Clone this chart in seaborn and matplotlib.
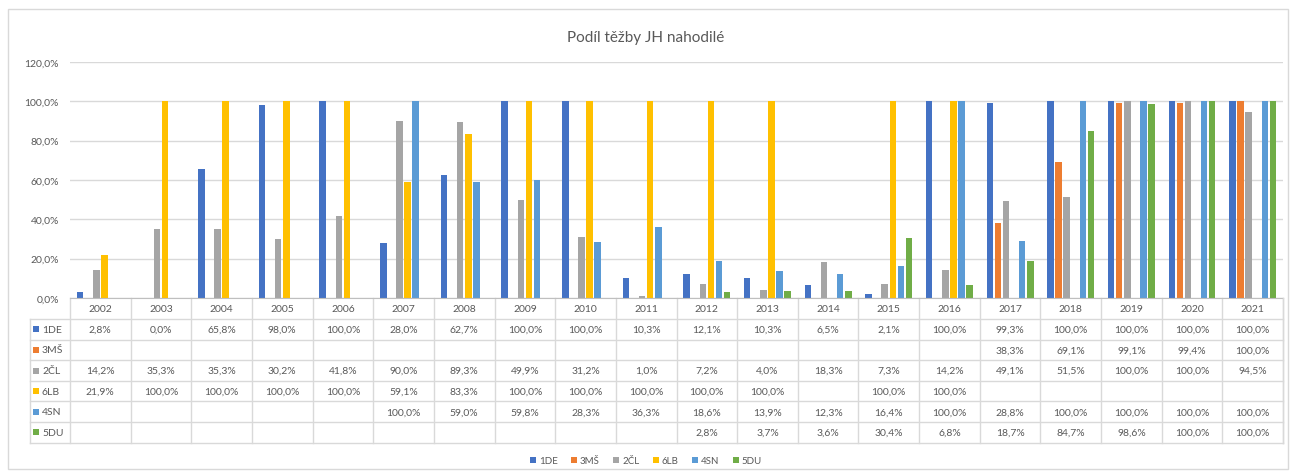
import matplotlib.pyplot as plt
import matplotlib.transforms as mtransforms
from matplotlib.ticker import FuncFormatter
from matplotlib.patches import Rectangle
import numpy as np
import pandas as pd
import seaborn as sns

# data
years = [str(y) for y in range(2002, 2022)]
series = ['1DE', '3MŠ', '2ČL', '6LB', '4SN', '5DU']
colors = ['#4472C4', '#ED7D31', '#A5A5A5', '#FFC000', '#5B9BD5', '#70AD47']
N = None
de = [2.8, 0.0, 65.8, 98.0, 100.0, 28.0, 62.7, 100.0, 100.0, 10.3, 12.1, 10.3, 6.5, 2.1, 100.0, 99.3, 100.0, 100.0, 100.0, 100.0]
ms = [N, N, N, N, N, N, N, N, N, N, N, N, N, N, N, 38.3, 69.1, 99.1, 99.4, 100.0]
cl = [14.2, 35.3, 35.3, 30.2, 41.8, 90.0, 89.3, 49.9, 31.2, 1.0, 7.2, 4.0, 18.3, 7.3, 14.2, 49.1, 51.5, 100.0, 100.0, 94.5]
lb = [21.9, 100.0, 100.0, 100.0, 100.0, 59.1, 83.3, 100.0, 100.0, 100.0, 100.0, 100.0, N, 100.0, 100.0, N, N, N, N, N]
sn = [N, N, N, N, N, 100.0, 59.0, 59.8, 28.3, 36.3, 18.6, 13.9, 12.3, 16.4, 100.0, 28.8, 100.0, 100.0, 100.0, 100.0]
du = [N, N, N, N, N, N, N, N, N, N, 2.8, 3.7, 3.6, 30.4, 6.8, 18.7, 84.7, 98.6, 100.0, 100.0]
values = dict(zip(series, [de, ms, cl, lb, sn, du]))

rows = []
for s in series:
    for y, v in zip(years, values[s]):
        if v is not None:
            rows.append({'rok': y, 'serie': s, 'podil': v / 100})
df = pd.DataFrame(rows)

W, H = 1292, 477
txt = '#595959'
grid = '#D9D9D9'
plt.rcParams['font.family'] = ['Lato', 'DejaVu Sans']

fig = plt.figure(figsize=(W / 100, H / 100), dpi=100)
ax = fig.add_axes([70 / W, 1 - 299 / H, (1283 - 70) / W, (299 - 63) / H])

sns.barplot(data=df, x='rok', y='podil', hue='serie', order=years, hue_order=series,
            palette=colors, saturation=1, errorbar=None, width=0.8, gap=0.2, ax=ax, legend=True)

ax.set_xlim(-0.5, 19.5)
ax.set_ylim(0, 1.2)
ax.set_yticks(np.arange(0, 1.21, 0.2))
ax.yaxis.set_major_formatter(FuncFormatter(lambda v, p: f'{v * 100:.1f}'.replace('.', ',') + '%'))
ax.tick_params(axis='y', length=0, labelsize=7.5, labelcolor=txt, pad=8)
ax.set_xticks([])
ax.set_xlabel('')
ax.set_ylabel('')
ax.grid(axis='y', color=grid, linewidth=1)
ax.set_axisbelow(True)
for sp in ['top', 'right', 'left']:
    ax.spines[sp].set_visible(False)
ax.spines['bottom'].set_color('#BFBFBF')

# legend
handles, labels = ax.get_legend_handles_labels()
ax.legend(handles, labels, loc='center', bbox_to_anchor=(0.5, 1 - 462 / H),
          bbox_transform=fig.transFigure, ncol=6, frameon=False, fontsize=7,
          handlelength=0.6, handleheight=0.6, handletextpad=0.3, columnspacing=1.4,
          labelcolor=txt)

# title
fig.text(0.5, 1 - 38 / H, 'Podíl těžby JH nahodilé', ha='center', va='center',
         fontsize=11, color=txt)

# outer border
fig.patches.append(Rectangle((8 / W, 1 - 470 / H), (1288 - 8) / W, (470 - 10) / H,
                             transform=fig.transFigure, fill=False, edgecolor=grid, linewidth=1))

# data table
tr = mtransforms.blended_transform_factory(ax.transData, fig.transFigure)
fy = lambda px: 1 - px / H
fx = lambda px: px / W
row_edges = [320 + 20.6 * i for i in range(7)]
top = 299

for i in range(21):
    ax.plot([i - 0.5, i - 0.5], [fy(top), fy(row_edges[-1])], transform=tr,
            color=grid, linewidth=1, clip_on=False)
for e in row_edges:
    fig.add_artist(plt.Line2D([fx(30), fx(1283)], [fy(e), fy(e)], transform=fig.transFigure,
                              color=grid, linewidth=1))
fig.add_artist(plt.Line2D([fx(30), fx(30)], [fy(row_edges[0]), fy(row_edges[-1])],
                          transform=fig.transFigure, color=grid, linewidth=1))
fig.add_artist(plt.Line2D([fx(1283), fx(1283)], [fy(top), fy(row_edges[-1])],
                          transform=fig.transFigure, color=grid, linewidth=1))

for i, y in enumerate(years):
    ax.text(i, fy((top + row_edges[0]) / 2), y, transform=tr, ha='center', va='center',
            fontsize=7.5, color=txt)

for r, (s, c) in enumerate(zip(series, colors)):
    yc = fy((row_edges[r] + row_edges[r + 1]) / 2)
    fig.patches.append(Rectangle((fx(33), yc - 3 / H), 6 / W, 6 / H, transform=fig.transFigure,
                                 facecolor=c, edgecolor='none'))
    fig.text(fx(42), yc, s, ha='left', va='center', fontsize=7.5, color=txt)
    for i, v in enumerate(values[s]):
        if v is not None:
            ax.text(i, yc, f'{v:.1f}'.replace('.', ',') + '%', transform=tr,
                    ha='center', va='center', fontsize=7.5, color=txt)

fig.savefig('out.png', dpi=100, facecolor='white')
